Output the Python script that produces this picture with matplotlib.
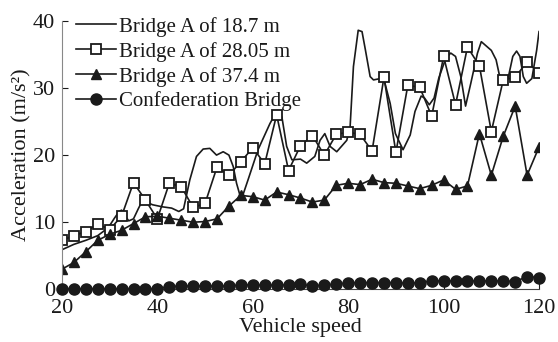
import numpy as np
import matplotlib
matplotlib.use("Agg")
import matplotlib.pyplot as plt

plt.rcParams['font.family'] = ['Liberation Serif', 'DejaVu Serif']

# speeds sampled for the marker series
speed = np.arange(20, 120.1, 2.5)

# Bridge A of 18.7 m (dense trace, no markers)
s_x = [20, 22.5, 25, 27.5, 29, 30, 31, 32, 32.5, 33, 34, 35, 36, 37, 38, 39, 41, 43,
       44.5, 45.5, 46.8, 48.2, 49.6, 51, 52.4, 53.8, 55, 55.9, 56.6, 57.4, 58, 59,
       61.1, 63.6, 65, 66.1, 67.1, 68.2, 70, 71.3, 73, 74.1, 75.1, 76.2, 77.6, 79.7,
       80.4, 81.1, 82.1, 82.9, 83.6, 84.6, 85.3, 86.7, 87.6, 88.8, 89.9, 91.5, 93,
       94, 95.3, 96, 97, 98, 99, 100.5, 101.5, 102.5, 103.6, 104.6, 105.7, 107.1,
       107.9, 110, 111, 111.7, 113.5, 114.5, 115.3, 116, 116.7, 117.4, 118.5, 119.5, 120]
s_y = [5.9, 6.7, 7.3, 8.0, 8.8, 9.5, 10.6, 11.6, 11.8, 11.2, 10.2, 10.5, 12.0, 13.4,
       12.9, 12.6, 12.3, 12.1, 11.6, 12.0, 16.3, 19.8, 20.9, 21.0, 20.0, 20.5, 20.0,
       18.3, 15.8, 13.8, 14.2, 16.3, 20.8, 24.7, 26.5, 25.7, 21.3, 19.3, 19.4, 18.8,
       19.8, 22.2, 23.2, 21.3, 20.5, 22.2, 24.2, 33.2, 38.6, 38.4, 35.7, 31.7, 31.2,
       31.4, 31.0, 27.7, 23.2, 20.8, 23.0, 26.5, 28.8, 28.5, 27.5, 28.5, 31.5, 34.5,
       35.2, 34.7, 31.7, 27.3, 30.7, 35.2, 36.9, 35.6, 34.2, 31.9, 31.4, 34.7, 35.5,
       34.7, 31.7, 30.7, 31.4, 35.6, 38.4]

# Bridge A of 28.05 m
b28 = [7.3, 8.0, 8.6, 9.75, 8.9, 10.9, 15.9, 13.3, 10.5, 15.8, 15.3, 12.2, 12.8, 18.2,
       17.0, 19.0, 21.1, 18.7, 26.0, 17.7, 21.4, 22.9, 20.0, 23.1, 23.4, 23.1, 20.6,
       31.6, 20.4, 30.4, 30.1, 25.8, 34.7, 27.5, 36.1, 33.3, 23.5, 31.2, 31.6, 33.9, 32.2]

# Bridge A of 37.4 m
b37 = [3.0, 4.0, 5.6, 7.3, 8.2, 8.8, 9.8, 10.8, 10.9, 10.6, 10.3, 10.0, 10.1, 10.5,
       12.4, 14.0, 13.8, 13.3, 14.5, 14.1, 13.6, 13.0, 13.3, 15.5, 15.8, 15.6, 16.4,
       15.9, 15.8, 15.4, 15.0, 15.5, 16.3, 14.9, 15.4, 23.2, 17.0, 22.8, 27.3, 17.0, 21.2]

# Confederation Bridge
conf = [0.1, 0.1, 0.1, 0.1, 0.1, 0.1, 0.1, 0.1, 0.1, 0.4, 0.5, 0.5, 0.5, 0.5, 0.5,
        0.65, 0.65, 0.6, 0.65, 0.65, 0.75, 0.5, 0.65, 0.75, 1.0, 1.0, 1.0, 1.0, 1.0,
        0.9, 1.0, 1.25, 1.25, 1.25, 1.25, 1.25, 1.25, 1.25, 1.15, 1.9, 1.75]

fig = plt.figure(figsize=(5.58, 3.42), dpi=100)
ax = fig.add_axes([0.111, 0.154, 0.855, 0.785])

lw = 1.2
ax.plot(s_x, s_y, color='#1a1a1a', lw=lw, label='Bridge A of 18.7 m')
ax.plot(speed, b28, color='#1a1a1a', lw=lw, marker='s', ms=7.5, mfc='white',
        mec='#1a1a1a', mew=1.3, label='Bridge A of 28.05 m')
ax.plot(speed, b37, color='#1a1a1a', lw=lw, marker='^', ms=6.5, mfc='#1a1a1a',
        mec='#1a1a1a', label='Bridge A of 37.4 m')
ax.plot(speed, conf, color='#1a1a1a', lw=lw, marker='o', ms=8, mfc='#1a1a1a',
        mec='#1a1a1a', label='Confederation Bridge', clip_on=False, zorder=3)

ax.set_xlim(20, 120)
ax.set_ylim(0, 40)
ax.set_xticks([20, 40, 60, 80, 100, 120])
ax.set_yticks([0, 10, 20, 30, 40])
ax.tick_params(direction='in', labelsize=16, length=4, width=0.8, colors='#1a1a1a')
ax.tick_params(axis='x', pad=7)
ax.tick_params(axis='y', pad=5)
ax.spines['top'].set_visible(False)
ax.spines['right'].set_visible(False)
ax.spines['left'].set_color('#888888')
ax.spines['bottom'].set_color('#444444')
ax.set_xlabel('Vehicle speed', fontsize=16, labelpad=0, color='#1a1a1a')
ax.set_ylabel('Acceleration (m/s²)', fontsize=16, labelpad=1, color='#1a1a1a')

leg = ax.legend(loc='upper left', bbox_to_anchor=(0.03, 1.015), frameon=False,
                fontsize=15, handlelength=1.9, handletextpad=0.15,
                labelspacing=0.24, borderaxespad=0, borderpad=0)
for t in leg.get_texts():
    t.set_color('#1a1a1a')

fig.savefig('out.png', dpi=100)
